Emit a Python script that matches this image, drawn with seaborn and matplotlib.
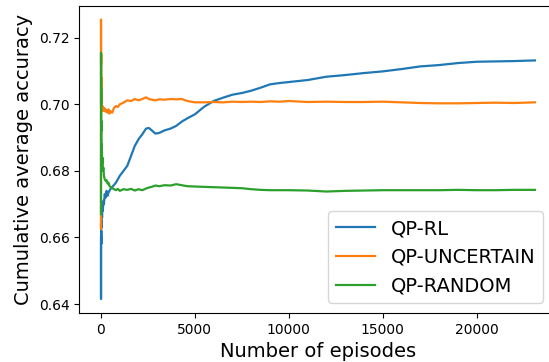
# Cumulative average accuracy of the three query policies over episodes
import numpy as np
import pandas as pd
import matplotlib
matplotlib.use("Agg")
import matplotlib.pyplot as plt
import seaborn as sns

episodes = [1, 2, 4, 6, 10, 15, 20, 30, 40, 60, 80, 100, 130, 160, 200, 250,
            300, 350, 400, 450, 500, 600, 700, 800, 900, 1000, 1200, 1400,
            1600, 1800, 2000, 2200, 2400, 2550, 2700, 2900, 3100, 3400, 3700,
            4000, 4300, 4600, 5000, 5500, 6000, 6500, 7000, 7500, 8000, 8500,
            9000, 9500, 10000, 11000, 12000, 13000, 14000, 15000, 16000,
            17000, 18000, 19000, 20000, 21000, 22000, 23100]

qp_rl = [0.660, 0.650, 0.6415, 0.655, 0.662, 0.658, 0.665, 0.663, 0.668,
         0.666, 0.670, 0.668, 0.671, 0.670, 0.673, 0.672, 0.674, 0.6725,
         0.6735, 0.6740, 0.6745, 0.6752, 0.6758, 0.6765, 0.6775, 0.6785,
         0.6800, 0.6815, 0.6845, 0.6875, 0.6895, 0.6910, 0.6927, 0.6929,
         0.6922, 0.6912, 0.6914, 0.6922, 0.6927, 0.6935, 0.6948, 0.6958,
         0.6970, 0.6993, 0.7010, 0.7020, 0.7029, 0.7034, 0.7041, 0.7050,
         0.7060, 0.7064, 0.7067, 0.7073, 0.7083, 0.7088, 0.7094, 0.7099,
         0.7106, 0.7114, 0.7118, 0.7124, 0.7128, 0.7129, 0.7130, 0.7132]

qp_uncertain = [0.664, 0.6625, 0.7255, 0.712, 0.715, 0.705, 0.708, 0.700,
                0.703, 0.698, 0.6995, 0.6985, 0.6990, 0.6980, 0.6988, 0.6978,
                0.6983, 0.6975, 0.6985, 0.6972, 0.6980, 0.6975, 0.6990,
                0.6995, 0.6992, 0.7000, 0.7005, 0.7012, 0.7010, 0.7016,
                0.7012, 0.7016, 0.7021, 0.7016, 0.7014, 0.7012, 0.7015,
                0.7014, 0.7016, 0.7015, 0.7016, 0.7010, 0.7006, 0.7006,
                0.7007, 0.7006, 0.7008, 0.7007, 0.7008, 0.7007, 0.7009,
                0.7008, 0.7010, 0.7007, 0.7008, 0.7007, 0.7007, 0.7008,
                0.7006, 0.7004, 0.7003, 0.7003, 0.7004, 0.7005, 0.7004,
                0.7006]

qp_random = [0.667, 0.690, 0.7155, 0.700, 0.705, 0.692, 0.695, 0.686, 0.688,
             0.682, 0.684, 0.680, 0.681, 0.6785, 0.6775, 0.6770, 0.6772,
             0.6762, 0.6765, 0.6755, 0.6752, 0.6748, 0.6745, 0.6742, 0.6746,
             0.6740, 0.6745, 0.6743, 0.6746, 0.6741, 0.6745, 0.6742, 0.6747,
             0.6750, 0.6752, 0.6756, 0.6754, 0.6757, 0.6756, 0.6760, 0.6757,
             0.6754, 0.6753, 0.6752, 0.6751, 0.6750, 0.6749, 0.6748, 0.6745,
             0.6743, 0.6742, 0.6742, 0.6742, 0.6741, 0.6738, 0.6740, 0.6741,
             0.6742, 0.6742, 0.6742, 0.6742, 0.6743, 0.6742, 0.6742, 0.6743,
             0.6743]

series = {"QP-RL": qp_rl, "QP-UNCERTAIN": qp_uncertain, "QP-RANDOM": qp_random}
colors = ["tab:blue", "tab:orange", "tab:green"]

fig = plt.figure(figsize=(5.49, 3.62), dpi=100)
ax = fig.add_axes([0.1444, 0.1354, 0.8694, 0.8494])

for (name, vals), c in zip(series.items(), colors):
    df = pd.DataFrame({"episode": episodes, "acc": vals})
    sns.lineplot(data=df, x="episode", y="acc", ax=ax, color=c, label=name,
                 estimator=None, linewidth=1.6)

ax.set_xticks([0, 5000, 10000, 15000, 20000])
ax.set_yticks([0.64, 0.66, 0.68, 0.70, 0.72])
ax.set_xlabel("Number of episodes", fontsize=14)
ax.set_ylabel("Cumulative average accuracy", fontsize=14)
ax.legend(loc="lower right", bbox_to_anchor=(0.992, 0.0), fontsize=14)

fig.savefig("out.png", dpi=100)
